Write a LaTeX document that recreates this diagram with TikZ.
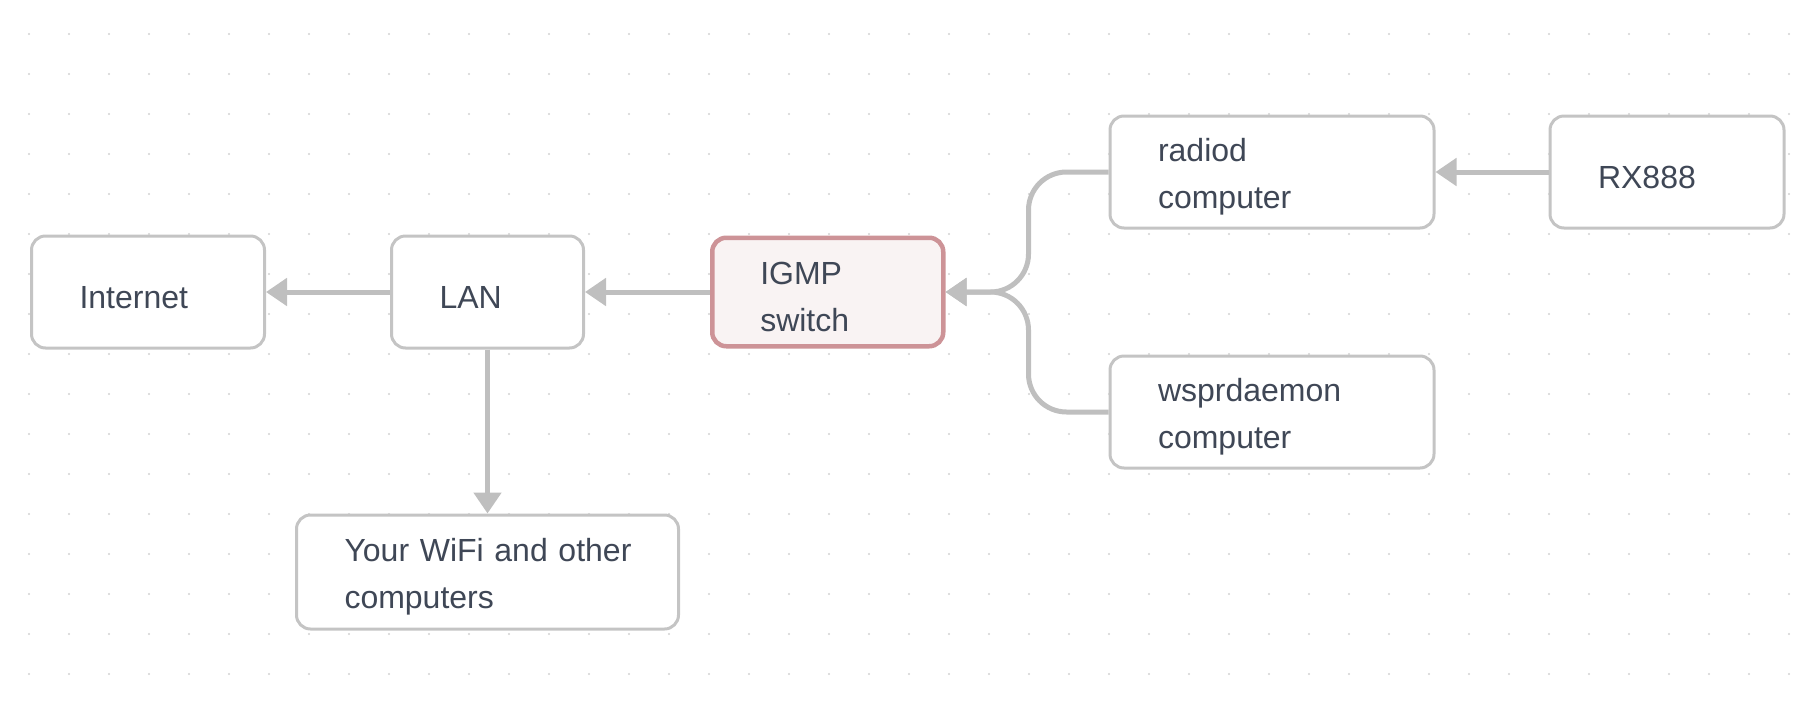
\documentclass[tikz,border=0pt]{standalone}
\usepackage{fontspec}
\setmainfont{Liberation Sans}
\usetikzlibrary{positioning,arrows.meta}
\definecolor{ink}{HTML}{3F4756}
\definecolor{boxgrey}{HTML}{C4C4C4}
\definecolor{edgegrey}{HTML}{BFBFBF}
\definecolor{dotgrey}{HTML}{D2D2D2}
\definecolor{swred}{HTML}{CD9397}
\definecolor{swpink}{HTML}{F9F3F3}
\begin{document}
\begin{tikzpicture}[
		box/.style={draw=boxgrey, line width=3pt, fill=white, rounded corners=14pt, inner xsep=48pt, inner ysep=0pt,
			minimum height=112pt, align=left, text=ink, font=\fontsize{32pt}{47pt}\selectfont,
			execute at begin node={\rule{0pt}{33pt}}},
		hot/.style={box, draw=swred, fill=swpink, line width=4.5pt, minimum height=108.5pt},
		link/.style={draw=edgegrey, line width=5pt, -{Triangle[length=21pt,width=27pt]}},
	]
		\useasboundingbox (0,0) rectangle (1816pt,-710pt);
		\foreach \i in {0,...,44}
			\foreach \j in {0,...,16}
				\fill[dotgrey] ({29pt+40pt*\i},{-34pt-40pt*\j}) circle (1.2pt);
		\node[box, text width=137pt] (inet) at (148pt,-292pt) {Internet};
		\node[box, text width=96pt, right=124pt of inet] (lan) {LAN};
		\node[hot, text width=135pt, right=125pt of lan] (sw) {IGMP\\switch};
		\node[box, text width=228pt, right=163pt of sw, yshift=120pt] (rad) {radiod\\computer};
		\node[box, text width=138pt, right=113pt of rad] (rx) {RX888};
		\node[box, text width=228pt, below=125pt of rad] (wspr) {wsprdaemon\\computer};
		\node[box, text width=286pt, minimum height=114pt, below=164pt of lan] (wifi) {\mbox{Your WiFi and other}\\computers};
		\draw[link] (lan) -- (inet);
		\draw[link] (sw) -- (lan);
		\draw[link] (rx) -- (rad);
		\draw[link] (lan) -- (wifi);
		\draw[link, rounded corners=38pt] (rad.west) -- ++(-80pt,0) |- (sw.east);
		\draw[link, rounded corners=38pt] (wspr.west) -- ++(-80pt,0) |- (sw.east);
	\end{tikzpicture}
\end{document}
